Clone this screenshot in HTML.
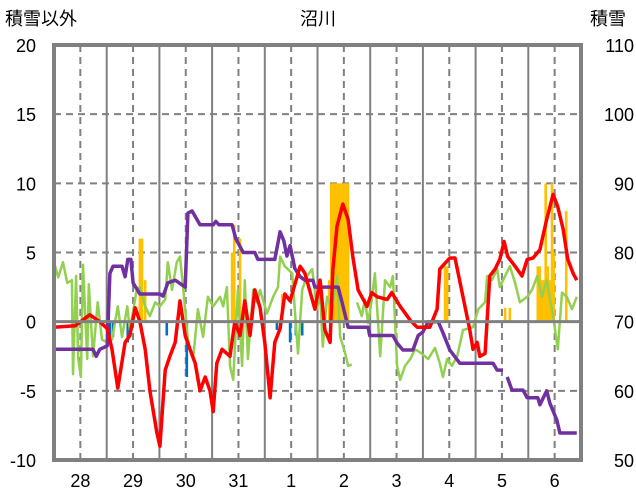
<!DOCTYPE html>
<html><head><meta charset="utf-8">
<style>
html,body{margin:0;padding:0;background:#fff;}
svg{display:block;font-family:"Liberation Sans","Noto Sans CJK JP",sans-serif;}
</style></head>
<body>
<svg id="chart" width="636" height="501" viewBox="0 0 636 501" xmlns="http://www.w3.org/2000/svg">
<text x="318" y="25" font-size="18" text-anchor="middle" fill="#000">沼川</text>
<text x="5" y="25" font-size="18" fill="#000">積雪以外</text>
<text x="590" y="25" font-size="18" fill="#000">積雪</text>
<g id="grid"></g><g id="bars"></g><g id="lines"></g><g id="axes"></g>
</svg>
<script>
const dayLabels=["28","29","30","31","1","2","3","4","5","6"];
const leftTicks=[20,15,10,5,0,-5,-10];
const rightTicks=[110,100,90,80,70,60,50];
const redT=[0,.40,.68,.87,1.01,1.10,1.21,1.35,1.44,1.54,1.63,1.73,1.82,1.95,2.01,2.11,2.20,2.30,2.39,2.49,2.58,2.68,2.77,2.87,2.96,3.02,3.09,3.19,3.34,3.43,3.53,3.62,3.72,3.81,3.91,4.00,4.10,4.19,4.29,4.38,4.48,4.67,4.76,4.95,5.05,5.14,5.24,5.29,5.37,5.48,5.58,5.67,5.77,5.94,6.03,6.13,6.32,6.41,6.57,6.76,6.89,7.13,7.27,7.32,7.51,7.61,7.76,7.89,7.95,8.03,8.08,8.18,8.27,8.37,8.46,8.54,8.61,8.75,8.88,8.98,9.09,9.22,9.35,9.47,9.56,9.66,9.75,9.85,9.92];
const redV=[-0.4,-0.3,0.5,0,-0.5,-2,-4.8,-1.5,-1,1,0,-2,-5,-8,-9,-3.5,-2.5,-1.5,1.5,-1,-2,-3,-5,-4,-5,-6.5,-3,-2,-2.5,0,-1,1.5,-1,2.3,1,-1.5,-5.5,-1.5,-0.5,2,1.5,4,3.5,0.9,3,-0.6,-1.5,3.7,6.9,8.5,7.4,4.7,2.3,1.1,2.1,1.8,1.6,2.1,1.1,0.1,-0.4,-0.4,0.9,3.8,4.6,4.6,1.8,-0.6,-2,-1.5,-2.5,-2.3,3.3,3.8,4.5,5.8,4.7,4,3.3,4.5,4.6,5.2,7.4,9.2,8.3,6.7,4.5,3.5,3];
const greenT=[0,.08,.17,.25,.34,.36,.42,.46,.51,.55,.63,.66,.74,.83,.91,1.01,1.10,1.21,1.29,1.39,1.44,1.57,1.63,1.73,1.82,1.92,2.01,2.11,2.16,2.24,2.33,2.39,2.45,2.54,2.64,2.73,2.83,2.92,3.02,3.15,3.21,3.28,3.34,3.40,3.49,3.57,3.62,3.68,3.78,3.85,3.91,4.04,4.16,4.25,4.29,4.38,4.52,4.63,4.71,4.80,4.90,4.99,5.05,5.10,5.18,5.28,5.37,5.43,5.52,5.58,5.65,5.70,5.75,5.84,5.90,5.96,6.03,6.09,6.19,6.28,6.38,6.43,6.51,6.57,6.66,6.76,6.85,6.94,7.10,7.23,7.32,7.38,7.46,7.55,7.65,7.76,7.95,8.05,8.18,8.22,8.31,8.41,8.46,8.56,8.65,8.75,8.84,8.98,9.07,9.17,9.26,9.35,9.47,9.56,9.64,9.73,9.83,9.92];
const greenV=[4.3,3.2,4.3,2.8,3,-3.8,3.3,-2.7,-4,4.1,-2.7,2.7,-2.5,1.4,-1.3,-1.5,-1.3,1.1,-1.1,1.1,-0.6,2.3,2.5,1.1,0.4,1.4,1.1,1.6,4.3,2.3,4.3,4.7,2.5,-1.3,-2.7,0.9,-1.1,1.8,1.1,1.8,1.1,2.5,-3.2,-4.2,2.3,-3.2,3,-2.7,2.3,1.4,2.3,0.6,1.8,2.5,4.7,4,3.5,-2.3,2.3,3.3,3.8,0.9,2.1,-1.8,1.8,0.9,3.3,-1.1,-2.2,-3.2,-3.1,null,1.4,0.4,1.6,-0.1,1.6,3.5,-2.5,3,2.5,3.3,-3.2,-4.2,-3.2,-2.7,-2,-2.2,-2.7,-1.9,-3,-4,-2.7,-3.2,-2.5,-0.6,-0.4,0.9,1.4,3.3,3,3.8,2.5,3.3,4,2.8,1.4,1.8,2.3,3.3,1.8,3,0.4,-2,2.1,1.8,0.9,1.8];
const purpleT=[0,.74,.80,.87,1.01,1.06,1.12,1.29,1.35,1.40,1.46,1.50,1.63,2.01,2.07,2.16,2.30,2.49,2.54,2.62,2.77,3.02,3.07,3.13,3.38,3.45,3.59,3.81,3.87,4.19,4.29,4.36,4.42,4.48,4.57,4.67,4.76,4.91,4.95,5.39,5.46,5.58,5.96,5.99,6.43,6.51,6.62,6.81,6.91,7.00,7.10,7.29,7.38,7.51,7.70,8.33,8.41,8.52,8.56,8.60,8.69,8.90,8.98,9.18,9.22,9.35,9.41,9.54,9.60,9.92];
const purpleV=[66,66,65,66,66.5,77,78,78,76.5,79,79,75.6,74,74,73.7,75.6,76,75,85.7,86,84,84,84.5,84,84,82,80,80,79,79,83,81.7,79.5,81,77.7,76.5,76,76,75,75,73,69.2,69.2,68,68,66.9,65.9,65.9,68,68.5,70,70,68.4,65.9,64,64,63,63,null,62,60.1,60.1,59,59,58,60,58.2,55.8,53.9,53.9];
const orangeT=[1.63,1.67,1.73,3.38,3.42,3.53,4.33,5.22,5.26,5.30,5.34,5.38,5.42,5.46,5.50,5.54,5.58,7.42,7.46,8.56,8.65,9.18,9.22,9.26,9.30,9.33,9.37,9.41,9.45,9.48,9.72];
const orangeV=[6,6,3,5,7,6,2,3,10,10,10,10,10,10,10,10,10,4,4,1,1,4,4,3,3,10,4,3,10,5,8];
const blueT=[1.06,1.12,1.40,2.14,2.52,4.23,4.48,4.59,4.71];
const blueV=[-1.1,-1.1,-1.5,-1,-4,-0.6,-1.5,-1,-1];

const NS="http://www.w3.org/2000/svg";
const L=54,R=581,T=45,B=460;
const x=t=>L+t*(R-L)/10;
const yL=v=>T+(20-v)*(B-T)/30;
const yR=v=>T+(110-v)*(B-T)/60;
function mk(tag,attrs,parent){const e=document.createElementNS(NS,tag);for(const k in attrs)e.setAttribute(k,attrs[k]);document.getElementById(parent).appendChild(e);return e;}
// grid
for(let d=0;d<10;d++){
  const g=mk('line',{x1:x(d+0.5),x2:x(d+0.5),y1:T,y2:B,stroke:'#808080','stroke-width':2,'stroke-dasharray':'7,5'},'grid');
  
  
  if(d>0){const s=mk('line',{x1:x(d),x2:x(d),y1:T,y2:B,stroke:'#808080','stroke-width':2},'grid');
  
  }
  const lb=mk('text',{x:x(d+0.5),y:487,'font-size':18,'text-anchor':'middle',fill:'#000'},'axes');
  lb.textContent=dayLabels[d];
  
  
}
leftTicks.forEach(v=>{
  if(v!==20&&v!==-10&&v!==0){const g=mk('line',{x1:L,x2:R,y1:yL(v),y2:yL(v),stroke:'#808080','stroke-width':2,'stroke-dasharray':'7,5'},'grid');
  
  }
  const t=mk('text',{x:36,y:yL(v)+7,'font-size':18,'text-anchor':'end',fill:'#000'},'axes');
  t.textContent=v;
  
  
});
rightTicks.forEach(v=>{
  const t=mk('text',{x:634,y:yR(v)+7,'font-size':18,'text-anchor':'end',fill:'#000'},'axes');
  t.textContent=v;
  
  
});
const z=mk('line',{x1:L,x2:R,y1:yL(0),y2:yL(0),stroke:'#808080','stroke-width':3},'axes');


const fr=mk('rect',{x:L,y:T,width:R-L,height:B-T,fill:'none',stroke:'#808080','stroke-width':4},'axes');


// bars
orangeT.forEach((t,i)=>{const v=orangeV[i];
  const b=mk('rect',{x:x(t)-1.3,y:yL(v),width:2.6,height:yL(0)-yL(v),fill:'#FFC000'},'bars');
  
  });
blueT.forEach((t,i)=>{const v=blueV[i];
  const b=mk('rect',{x:x(t)-1.3,y:yL(0),width:2.6,height:yL(v)-yL(0),fill:'#0070C0'},'bars');
  
  });
function path(ts,vs,yf){let d='',pen=false;ts.forEach((t,i)=>{const v=vs[i];if(v===null){pen=false;return;}d+=(pen?'L':'M')+x(t).toFixed(1)+','+yf(v).toFixed(1);pen=true;});return d;}
const gp=mk('path',{d:path(greenT,greenV,yL),fill:'none',stroke:'#92D050','stroke-width':2.5,'stroke-linejoin':'round'},'lines');


const pp=mk('path',{d:path(purpleT,purpleV,yR),fill:'none',stroke:'#7030A0','stroke-width':3.5,'stroke-linejoin':'round'},'lines');


const rp=mk('path',{d:path(redT,redV,yL),fill:'none',stroke:'#FF0000','stroke-width':3.5,'stroke-linejoin':'round'},'lines');


</script>
</body></html>
